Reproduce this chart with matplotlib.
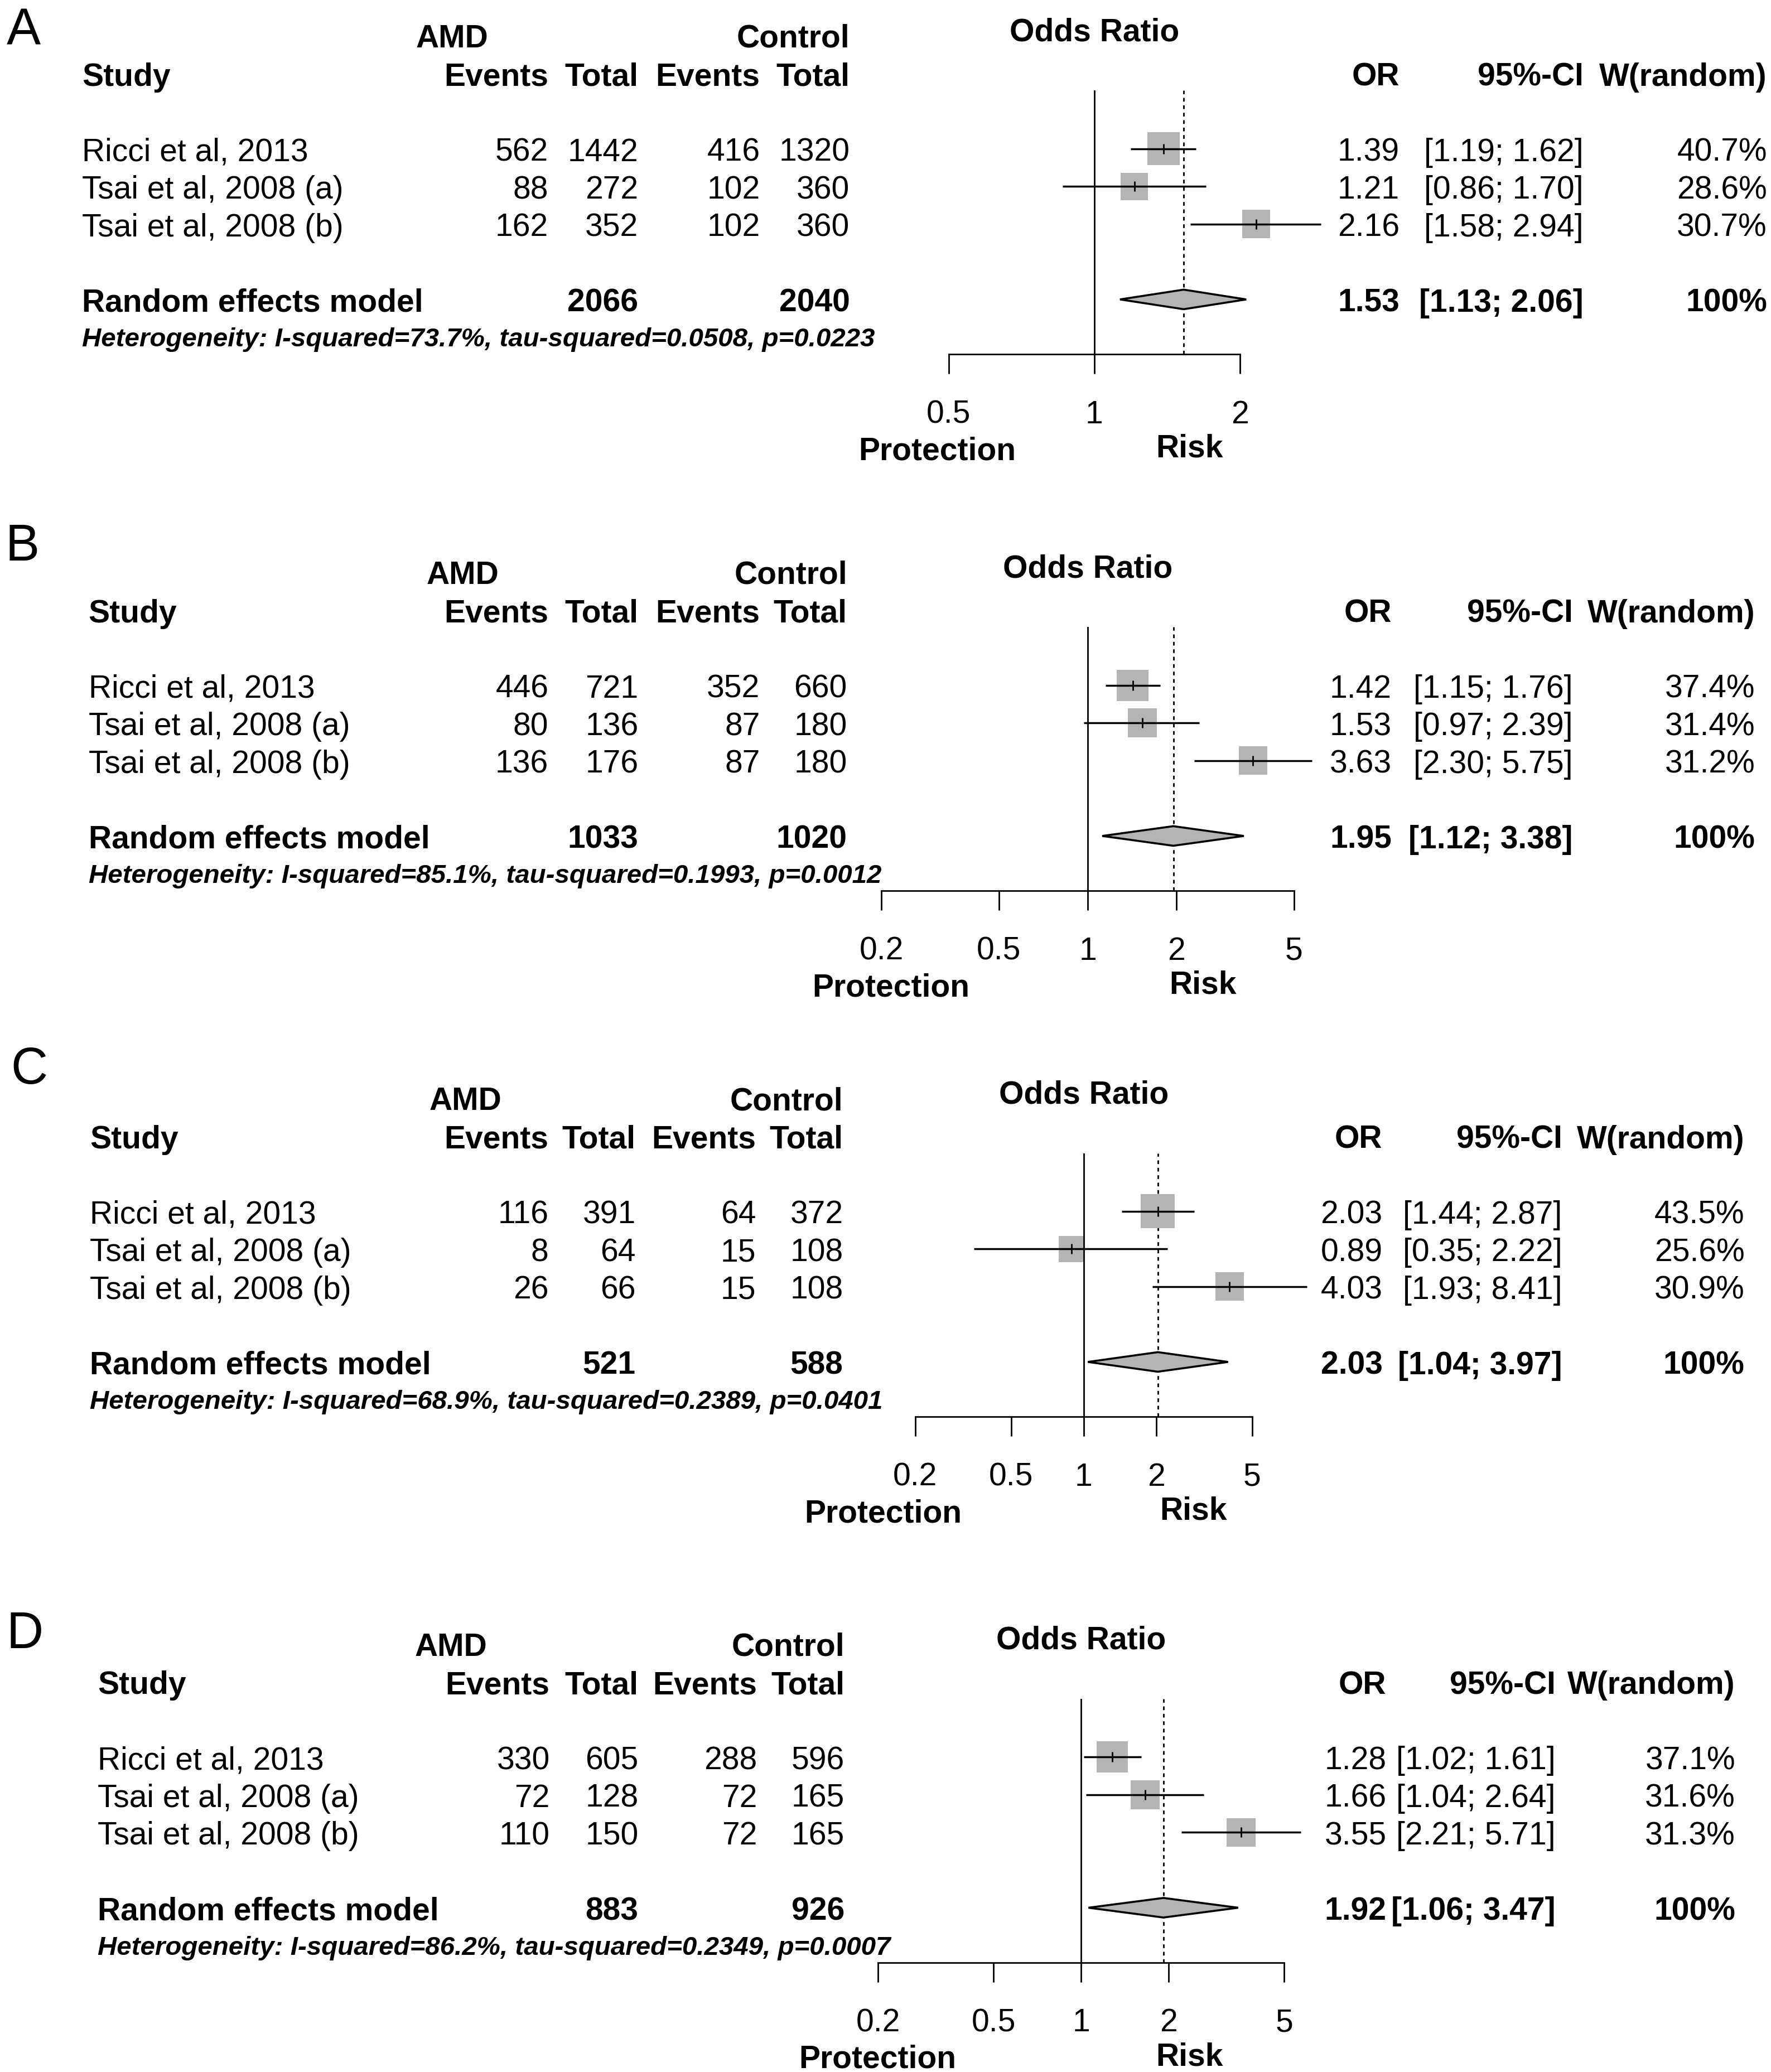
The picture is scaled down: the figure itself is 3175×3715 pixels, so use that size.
import numpy as np
import matplotlib
matplotlib.use("Agg")
import matplotlib.pyplot as plt
from matplotlib.patches import Polygon
from matplotlib.ticker import NullLocator

plt.rcParams['font.family'] = ['Liberation Sans', 'DejaVu Sans']

# ---------------- data ----------------
studies = ["Ricci et al, 2013", "Tsai et al, 2008 (a)", "Tsai et al, 2008 (b)"]
header_cols = ["Events", "Total", "Events", "Total"]

# Panel A
A_events_amd = [562, 88, 162]
A_total_amd = [1442, 272, 352]
A_events_ctl = [416, 102, 102]
A_total_ctl = [1320, 360, 360]
A_or = [1.39, 1.21, 2.16]
A_lo = [1.19, 0.86, 1.58]
A_hi = [1.62, 1.70, 2.94]
A_w = [40.7, 28.6, 30.7]
A_pooled = [1.53, 1.13, 2.06]
A_sum = [2066, 2040]
A_het = ["73.7%", "0.0508", "0.0223"]
A_ticks = [0.5, 1, 2]
A_ticklabels = ["0.5", "1", "2"]

# Panel B
B_events_amd = [446, 80, 136]
B_total_amd = [721, 136, 176]
B_events_ctl = [352, 87, 87]
B_total_ctl = [660, 180, 180]
B_or = [1.42, 1.53, 3.63]
B_lo = [1.15, 0.97, 2.30]
B_hi = [1.76, 2.39, 5.75]
B_w = [37.4, 31.4, 31.2]
B_pooled = [1.95, 1.12, 3.38]
B_sum = [1033, 1020]
B_het = ["85.1%", "0.1993", "0.0012"]
B_ticks = [0.2, 0.5, 1, 2, 5]
B_ticklabels = ["0.2", "0.5", "1", "2", "5"]

# Panel C
C_events_amd = [116, 8, 26]
C_total_amd = [391, 64, 66]
C_events_ctl = [64, 15, 15]
C_total_ctl = [372, 108, 108]
C_or = [2.03, 0.89, 4.03]
C_lo = [1.44, 0.35, 1.93]
C_hi = [2.87, 2.22, 8.41]
C_w = [43.5, 25.6, 30.9]
C_pooled = [2.03, 1.04, 3.97]
C_sum = [521, 588]
C_het = ["68.9%", "0.2389", "0.0401"]
C_ticks = [0.2, 0.5, 1, 2, 5]
C_ticklabels = ["0.2", "0.5", "1", "2", "5"]

# Panel D
D_events_amd = [330, 72, 110]
D_total_amd = [605, 128, 150]
D_events_ctl = [288, 72, 72]
D_total_ctl = [596, 165, 165]
D_or = [1.28, 1.66, 3.55]
D_lo = [1.02, 1.04, 2.21]
D_hi = [1.61, 2.64, 5.71]
D_w = [37.1, 31.6, 31.3]
D_pooled = [1.92, 1.06, 3.47]
D_sum = [883, 926]
D_het = ["86.2%", "0.2349", "0.0007"]
D_ticks = [0.2, 0.5, 1, 2, 5]
D_ticklabels = ["0.2", "0.5", "1", "2", "5"]

panels = [
    dict(letter="A", ev1=A_events_amd, t1=A_total_amd, ev2=A_events_ctl, t2=A_total_ctl,
         orr=A_or, lo=A_lo, hi=A_hi, w=A_w, pooled=A_pooled, sums=A_sum, het=A_het,
         ticks=A_ticks, ticklabels=A_ticklabels),
    dict(letter="B", ev1=B_events_amd, t1=B_total_amd, ev2=B_events_ctl, t2=B_total_ctl,
         orr=B_or, lo=B_lo, hi=B_hi, w=B_w, pooled=B_pooled, sums=B_sum, het=B_het,
         ticks=B_ticks, ticklabels=B_ticklabels),
    dict(letter="C", ev1=C_events_amd, t1=C_total_amd, ev2=C_events_ctl, t2=C_total_ctl,
         orr=C_or, lo=C_lo, hi=C_hi, w=C_w, pooled=C_pooled, sums=C_sum, het=C_het,
         ticks=C_ticks, ticklabels=C_ticklabels),
    dict(letter="D", ev1=D_events_amd, t1=D_total_amd, ev2=D_events_ctl, t2=D_total_ctl,
         orr=D_or, lo=D_lo, hi=D_hi, w=D_w, pooled=D_pooled, sums=D_sum, het=D_het,
         ticks=D_ticks, ticklabels=D_ticklabels),
]

# ---------------- layout (reference pixel grid 1340 x 1568.3) ----------------
layouts = [
    dict(base=113, let=(5, 20), sx=62, cols=[415, 483, 575, 643], amd=342, orx=1059, cix=1198, wx=1337,
         x1=828, ppl=159.0, prot=709, risk=900),
    dict(base=519, let=(4, 410), sx=67, cols=[415, 483, 575, 641], amd=350, orx=1053, cix=1190, wx=1328,
         x1=823, ppl=97.0, prot=674, risk=910),
    dict(base=917, let=(8, 806), sx=68, cols=[415, 481, 572, 638], amd=352, orx=1046, cix=1182, wx=1320,
         x1=820, ppl=79.2, prot=668, risk=903),
    dict(base=1330, let=(5, 1233), sx=74, cols=[416, 483, 573, 639], amd=341, orx=1049, cix=1177, wx=1313,
         x1=818, ppl=95.5, prot=664, risk=900),
]

WD, HD = 1340.0, 1568.3
ROW = 28.5
FS = 41
FS_HET = 34.2
FS_LET = 66
GRAY = "#b4b4b4"
PX2PT = 0.72  # at dpi 100


def fx(x):
    return x / WD


def fy(y):
    return 1.0 - y / HD


fig = plt.figure(figsize=(31.75, 37.16), dpi=100)
fig.patch.set_facecolor("white")


def T(x, y, s, **kw):
    kw.setdefault("fontsize", FS)
    kw.setdefault("va", "center_baseline")
    fig.text(fx(x), fy(y), s, **kw)


for p, L in zip(panels, layouts):
    base = L["base"]
    cols = L["cols"]
    T(L["let"][0], L["let"][1], p["letter"], fontsize=FS_LET, ha="left")

    # header
    T(L["amd"], base - 86, "AMD", ha="center", weight="bold")
    T(cols[3], base - 86, "Control", ha="right", weight="bold")
    fx1 = L["x1"]
    left_d = fx1 + L["ppl"] * np.log(p["ticks"][0])
    right_d = fx1 + L["ppl"] * np.log(p["ticks"][-1])
    T((left_d + right_d) / 2, base - 91, "Odds Ratio", ha="center", weight="bold")
    T(L["sx"], base - 57, "Study", ha="left", weight="bold")
    for cx, lab in zip(cols, header_cols):
        T(cx, base - 57, lab, ha="right", weight="bold")
    T(L["orx"], base - 57, "OR", ha="right", weight="bold")
    T(L["cix"], base - 57, "95%-CI", ha="right", weight="bold")
    T(L["wx"], base - 57, "W(random)", ha="right", weight="bold")

    # study rows
    for i, name in enumerate(studies):
        y = base + ROW * i
        T(L["sx"], y, name, ha="left")
        for cx, val in zip(cols, [p["ev1"][i], p["t1"][i], p["ev2"][i], p["t2"][i]]):
            T(cx, y, str(val), ha="right")
        T(L["orx"], y, f"{p['orr'][i]:.2f}", ha="right")
        T(L["cix"], y, f"[{p['lo'][i]:.2f}; {p['hi'][i]:.2f}]", ha="right")
        T(L["wx"], y, f"{p['w'][i]:.1f}%", ha="right")

    # pooled row
    y = base + ROW * 4
    T(L["sx"], y, "Random effects model", ha="left", weight="bold")
    T(cols[1], y, str(p["sums"][0]), ha="right", weight="bold")
    T(cols[3], y, str(p["sums"][1]), ha="right", weight="bold")
    pe, plo, phi = p["pooled"]
    T(L["orx"], y, f"{pe:.2f}", ha="right", weight="bold")
    T(L["cix"], y, f"[{plo:.2f}; {phi:.2f}]", ha="right", weight="bold")
    T(L["wx"], y, "100%", ha="right", weight="bold")
    het = p["het"]
    T(L["sx"], base + 142,
      f"Heterogeneity: I-squared={het[0]}, tau-squared={het[1]}, p={het[2]}",
      ha="left", weight="bold", style="italic", fontsize=FS_HET)

    # forest axes
    top_d = base - 44
    bot_d = base + 155.5
    ax = fig.add_axes([fx(left_d), fy(bot_d), fx(right_d) - fx(left_d), fy(top_d) - fy(bot_d)])
    ax.set_xscale("log")
    ax.set_xlim(p["ticks"][0], p["ticks"][-1])
    ax.set_ylim((bot_d - base) / ROW, (top_d - base) / ROW)
    ax.patch.set_visible(False)
    for s in ["top", "left", "right"]:
        ax.spines[s].set_visible(False)
    ax.spines["bottom"].set_linewidth(2.0)
    ax.set_xticks(p["ticks"])
    ax.set_xticklabels(p["ticklabels"])
    ax.xaxis.set_minor_locator(NullLocator())
    ax.set_yticks([])
    ax.tick_params(axis="x", direction="out", length=25, width=2.0, pad=33, labelsize=FS)

    rows = np.arange(len(studies))
    ax.axvline(pe, color="black", lw=2.0, ls=(0, (2.4, 2.4)), zorder=1)
    side_pt = 9.2 * np.sqrt(np.array(p["w"])) * PX2PT
    ax.scatter(p["orr"], rows, marker="s", s=side_pt ** 2, color=GRAY, linewidths=0,
               zorder=2, clip_on=False)
    ax.axvline(1, color="black", lw=2.0, zorder=3)
    ax.hlines(rows, p["lo"], p["hi"], color="black", lw=2.5, zorder=4, clip_on=False)
    ax.scatter(p["orr"], rows, marker="|", s=12.5 ** 2, color="black", linewidths=2.0,
               zorder=5, clip_on=False)
    dh = 0.26
    ax.add_patch(Polygon([[plo, 4], [pe, 4 - dh], [phi, 4], [pe, 4 + dh]], closed=True,
                         facecolor=GRAY, edgecolor="black", lw=2.6, zorder=5, clip_on=False))

    T(L["prot"], base + 226, "Protection", ha="center", weight="bold")
    T(L["risk"], base + 224, "Risk", ha="center", weight="bold")

fig.savefig("out.png", dpi=100, facecolor="white")
